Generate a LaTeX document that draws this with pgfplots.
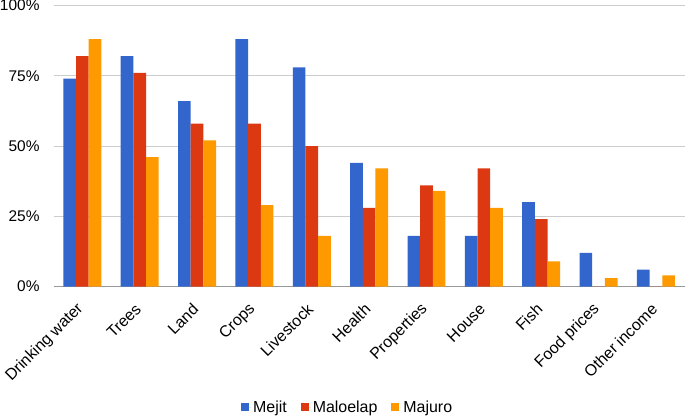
\documentclass[border=0pt]{standalone}
\usepackage{pgfplots}
\pgfplotsset{compat=1.18}
\usepackage{fontspec}
\setmainfont{Liberation Sans}
\definecolor{cMejit}{HTML}{3366CC}
\definecolor{cMalo}{HTML}{DC3912}
\definecolor{cMaj}{HTML}{FF9900}
\begin{document}
\begin{tikzpicture}
\begin{axis}[
  scale only axis,
  width=633pt, height=282pt,
  xmin=-0.5, xmax=10.5,
  ymin=0, ymax=100,
  axis lines=left,
  x axis line style={draw=black!40,-},
  y axis line style={draw=none},
  major tick length=0pt,
  ymajorgrids,
  grid style={draw=black!20, line width=0.8pt},
  ytick={0,25,50,75,100},
  yticklabels={0\%,25\%,50\%,75\%,100\%},
  yticklabel style={inner sep=0pt, anchor=east, xshift=-14pt, font=\fontsize{15.5}{18}\selectfont},
  xtick={0,...,10},
  xticklabels={Drinking water,Trees,Land,Crops,Livestock,Health,Properties,House,Fish,Food prices,Other income},
  xticklabel style={inner sep=0pt, xshift=-1.5pt, yshift=-20pt, rotate=45, anchor=east, font=\fontsize{16}{18}\selectfont},
  ybar, bar width=12.7pt,
  legend columns=-1,
  legend style={at={(0.466,-0.43)}, anchor=center, draw=none, font=\fontsize{16}{18}\selectfont,
    /tikz/every even column/.append style={column sep=12pt}},
  legend image code/.code={\fill[#1] (0pt,-4pt) rectangle (8pt,4pt); \path (0pt,0pt) -- (10pt,0pt);},
]
\addplot[fill=cMejit, draw=none, bar shift=-12.7pt] coordinates {
(0,74) (1,82) (2,66) (3,88) (4,78) (5,44) (6,18) (7,18) (8,30) (9,12) (10,6)};
\addplot[fill=cMalo, draw=none, bar shift=0pt] coordinates {
(0,82) (1,76) (2,58) (3,58) (4,50) (5,28) (6,36) (7,42) (8,24) (9,0) (10,0)};
\addplot[fill=cMaj, draw=none, bar shift=12.7pt] coordinates {
(0,88) (1,46) (2,52) (3,29) (4,18) (5,42) (6,34) (7,28) (8,9) (9,3) (10,4)};
\legend{Mejit,Maloelap,Majuro}
\end{axis}
\end{tikzpicture}
\end{document}
